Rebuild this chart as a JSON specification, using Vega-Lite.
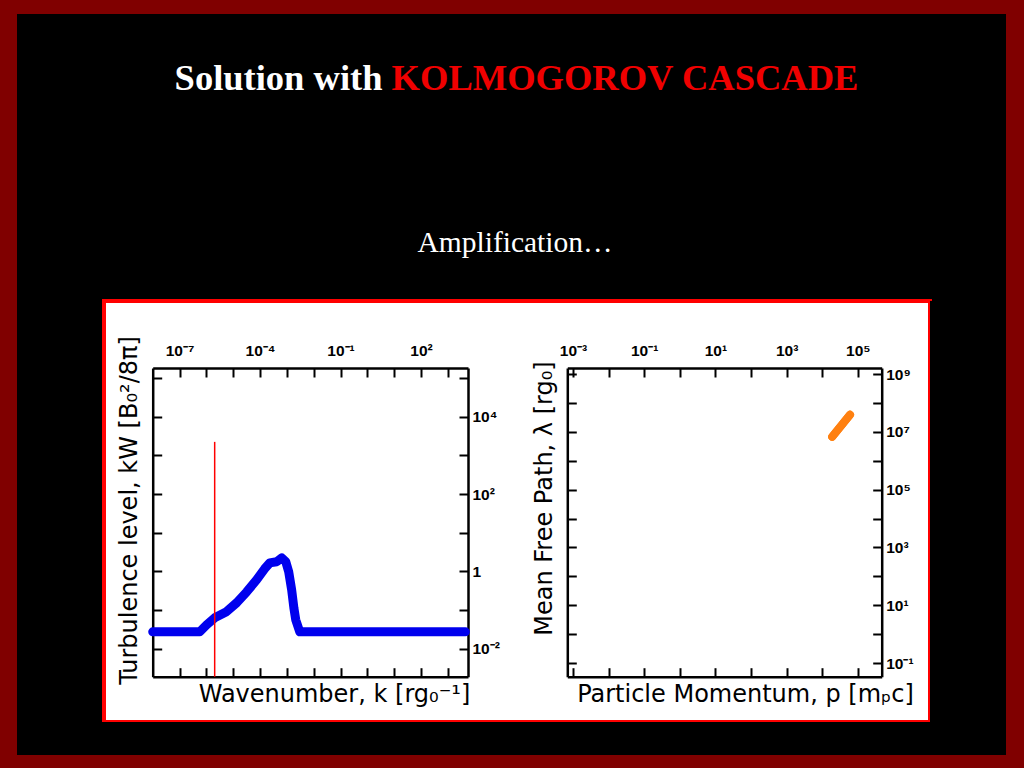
{
  "$schema": "https://vega.github.io/schema/vega-lite/v6.json",
  "background": "#800000",
  "padding": {"left": 17, "top": 14, "right": 18, "bottom": 13},
  "spacing": 0,
  "columns": 3,
  "align": "each",
  "bounds": "flush",
  "config": {
    "view": {"stroke": null},
    "axis": {
      "grid": false,
      "domainColor": "#000000",
      "domainWidth": 2.5,
      "tickColor": "#000000",
      "tickWidth": 2,
      "tickSize": -9,
      "labelFont": "Liberation Sans",
      "labelFontWeight": "bold",
      "labelFontSize": 15.5,
      "labelColor": "#000000",
      "labelFlush": false,
      "labelOverlap": false,
      "titleFont": "DejaVu Sans",
      "titleFontSize": 24,
      "titleFontWeight": "normal",
      "titleColor": "#000000",
      "minExtent": 0,
      "maxExtent": 200
    }
  },
  "concat": [
    {
      "width": 87, "height": 287,
      "view": {"fill": "#000000", "stroke": null},
      "data": {"values": [{}]},
      "mark": {"type": "point", "opacity": 0},
      "encoding": {}
    },
    {
      "width": 826, "height": 287,
      "view": {"fill": "#000000", "stroke": null},
      "layer": [
        {
          "data": {"values": [{"text": "Solution with"}]},
          "mark": {"type": "text", "font": "Liberation Serif", "fontWeight": "bold", "fontSize": 36.5, "color": "#ffffff", "align": "right", "baseline": "alphabetic", "dx": -134.5, "dy": -68},
          "encoding": {"text": {"field": "text"}}
        },
        {
          "data": {"values": [{"text": "KOLMOGOROV CASCADE"}]},
          "mark": {"type": "text", "font": "Liberation Serif", "fontWeight": "bold", "fontSize": 36.5, "color": "#f00000", "align": "left", "baseline": "alphabetic", "dx": -125.4, "dy": -68},
          "encoding": {"text": {"field": "text"}}
        },
        {
          "data": {"values": [{"text": "Amplification…"}]},
          "mark": {"type": "text", "font": "Liberation Serif", "fontSize": 29.5, "color": "#ffffff", "align": "center", "baseline": "alphabetic", "dx": -2, "dy": 94},
          "encoding": {"text": {"field": "text"}}
        }
      ]
    },
    {
      "width": 76, "height": 287,
      "view": {"fill": "#000000", "stroke": null},
      "data": {"values": [{}]},
      "mark": {"type": "point", "opacity": 0},
      "encoding": {}
    },
    {
      "width": 87, "height": 421,
      "view": {"fill": "#000000", "stroke": null},
      "data": {"values": [{}]},
      "mark": {"type": "point", "opacity": 0},
      "encoding": {}
    },
    {
      "width": 826,
      "height": 421,
      "view": {"fill": "#ffffff", "stroke": "#ff0000", "strokeWidth": 4},
      "resolve": {
        "scale": {"x": "independent", "y": "independent"},
        "axis": {"x": "independent", "y": "independent"}
      },
      "layer": [
        {
          "data": {"values": [
            {"k": 1e-8, "W": 0.0275},
            {"k": 5.62e-7, "W": 0.0275},
            {"k": 1.02e-6, "W": 0.0417},
            {"k": 2.04e-6, "W": 0.0631},
            {"k": 5.62e-6, "W": 0.0912},
            {"k": 1.35e-5, "W": 0.155},
            {"k": 3.16e-5, "W": 0.295},
            {"k": 7.41e-5, "W": 0.603},
            {"k": 1.48e-4, "W": 1.17},
            {"k": 2.29e-4, "W": 1.66},
            {"k": 4.17e-4, "W": 1.78},
            {"k": 6.46e-4, "W": 2.24},
            {"k": 9.12e-4, "W": 1.78},
            {"k": 1.17e-3, "W": 0.977},
            {"k": 1.51e-3, "W": 0.331},
            {"k": 1.82e-3, "W": 0.115},
            {"k": 2.14e-3, "W": 0.0562},
            {"k": 3.02e-3, "W": 0.0275},
            {"k": 4500, "W": 0.0275}
          ]},
          "mark": {"type": "line", "color": "#0000ee", "strokeWidth": 9, "strokeCap": "round", "strokeJoin": "round"},
          "encoding": {
            "x": {
              "field": "k", "type": "quantitative",
              "scale": {"type": "log", "domain": [1e-8, 5620], "range": [48.7, 364], "nice": false},
              "axis": {"orient": "bottom", "offset": -45.3, "values": [1e-7, 1e-6, 1e-5, 1e-4, 1e-3, 1e-2, 1e-1, 1, 10, 100, 1000], "labels": false, "title": "Wavenumber, k [rg₀⁻¹]", "titlePadding": 5, "titleX": 230}
            },
            "y": {
              "field": "W", "type": "quantitative",
              "scale": {"type": "log", "domain": [0.0019, 182000], "range": [375.7, 67], "nice": false},
              "axis": {"orient": "left", "offset": -48.7, "values": [0.01, 0.1, 1, 10, 100, 1000, 10000, 100000], "labels": false, "title": "Turbulence level, kW [B₀²/8π]", "titlePadding": 10, "titleY": 209}
            }
          }
        },
        {
          "data": {"values": [{"k": 2.04e-6, "Wtop": 2240, "Wbot": 0.0019}]},
          "mark": {"type": "rule", "color": "#ff0000", "strokeWidth": 1.5},
          "encoding": {
            "x": {
              "field": "k", "type": "quantitative",
              "scale": {"type": "log", "domain": [1e-8, 5620], "range": [48.7, 364], "nice": false},
              "axis": {"orient": "top", "offset": -67, "values": [1e-7, 1e-6, 1e-5, 1e-4, 1e-3, 1e-2, 1e-1, 1, 10, 100, 1000], "title": null, "labelPadding": 19,
                "labelExpr": "(round(log(datum.value)/LN10) + 8) % 3 == 1 ? (round(log(datum.value)/LN10) == 0 ? '1' : '10' + (datum.value < 1 ? '⁻' : '') + ['⁰','¹','²','³','⁴','⁵','⁶','⁷','⁸','⁹'][abs(round(log(datum.value)/LN10))]) : ''"}
            },
            "y": {
              "field": "Wtop", "type": "quantitative",
              "scale": {"type": "log", "domain": [0.0019, 182000], "range": [375.7, 67], "nice": false},
              "axis": {"orient": "right", "offset": -462, "values": [0.01, 0.1, 1, 10, 100, 1000, 10000, 100000], "title": null, "labelPadding": 13,
                "labelExpr": "(round(log(datum.value)/LN10) + 10) % 2 == 0 ? (round(log(datum.value)/LN10) == 0 ? '1' : '10' + (datum.value < 1 ? '⁻' : '') + ['⁰','¹','²','³','⁴','⁵','⁶','⁷','⁸','⁹'][abs(round(log(datum.value)/LN10))]) : ''"}
            },
            "y2": {"field": "Wbot"}
          }
        },
        {
          "data": {"values": [
            {"p": 19055, "lam": 6760000},
            {"p": 60256, "lam": 38900000}
          ]},
          "mark": {"type": "line", "color": "#ff8010", "strokeWidth": 8, "strokeCap": "round"},
          "encoding": {
            "x": {
              "field": "p", "type": "quantitative",
              "scale": {"type": "log", "domain": [0.000692, 467700], "range": [463.3, 777.7], "nice": false},
              "axis": {"orient": "bottom", "offset": -45.3, "values": [0.001, 0.01, 0.1, 1, 10, 100, 1000, 10000, 100000], "labels": false, "title": "Particle Momentum, p [mₚc]", "titlePadding": 5, "titleX": 641}
            },
            "y": {
              "field": "lam", "type": "quantitative",
              "scale": {"type": "log", "domain": [0.0339, 1620000000], "range": [375.7, 67], "nice": false},
              "axis": {"orient": "left", "offset": -463.3, "values": [0.1, 1, 10, 100, 1000, 10000, 100000, 1000000, 10000000, 100000000, 1000000000], "labels": false, "title": "Mean Free Path, λ [rg₀]", "titlePadding": 10, "titleY": 197}
            }
          }
        },
        {
          "data": {"values": [
            {"p": 19055, "lam": 6760000},
            {"p": 60256, "lam": 38900000}
          ]},
          "mark": {"type": "line", "color": "#ff8010", "strokeWidth": 8, "strokeCap": "round"},
          "encoding": {
            "x": {
              "field": "p", "type": "quantitative",
              "scale": {"type": "log", "domain": [0.000692, 467700], "range": [463.3, 777.7], "nice": false},
              "axis": {"orient": "top", "offset": -67, "values": [0.001, 0.01, 0.1, 1, 10, 100, 1000, 10000, 100000], "title": null, "labelPadding": 19,
                "labelExpr": "(round(log(datum.value)/LN10) + 11) % 2 == 0 ? (round(log(datum.value)/LN10) == 0 ? '1' : '10' + (datum.value < 1 ? '⁻' : '') + ['⁰','¹','²','³','⁴','⁵','⁶','⁷','⁸','⁹'][abs(round(log(datum.value)/LN10))]) : ''"}
            },
            "y": {
              "field": "lam", "type": "quantitative",
              "scale": {"type": "log", "domain": [0.0339, 1620000000], "range": [375.7, 67], "nice": false},
              "axis": {"orient": "right", "offset": -48.3, "values": [0.1, 1, 10, 100, 1000, 10000, 100000, 1000000, 10000000, 100000000, 1000000000], "title": null, "labelPadding": 13,
                "labelExpr": "(round(log(datum.value)/LN10) + 11) % 2 == 0 ? (round(log(datum.value)/LN10) == 0 ? '1' : '10' + (datum.value < 1 ? '⁻' : '') + ['⁰','¹','²','³','⁴','⁵','⁶','⁷','⁸','⁹'][abs(round(log(datum.value)/LN10))]) : ''"}
            }
          }
        }
      ]
    },
    {
      "width": 76, "height": 421,
      "view": {"fill": "#000000", "stroke": null},
      "data": {"values": [{}]},
      "mark": {"type": "point", "opacity": 0},
      "encoding": {}
    },
    {
      "width": 87, "height": 33,
      "view": {"fill": "#000000", "stroke": null},
      "data": {"values": [{}]},
      "mark": {"type": "point", "opacity": 0},
      "encoding": {}
    },
    {
      "width": 826, "height": 33,
      "view": {"fill": "#000000", "stroke": null},
      "data": {"values": [{}]},
      "mark": {"type": "point", "opacity": 0},
      "encoding": {}
    },
    {
      "width": 76, "height": 33,
      "view": {"fill": "#000000", "stroke": null},
      "data": {"values": [{}]},
      "mark": {"type": "point", "opacity": 0},
      "encoding": {}
    }
  ]
}
